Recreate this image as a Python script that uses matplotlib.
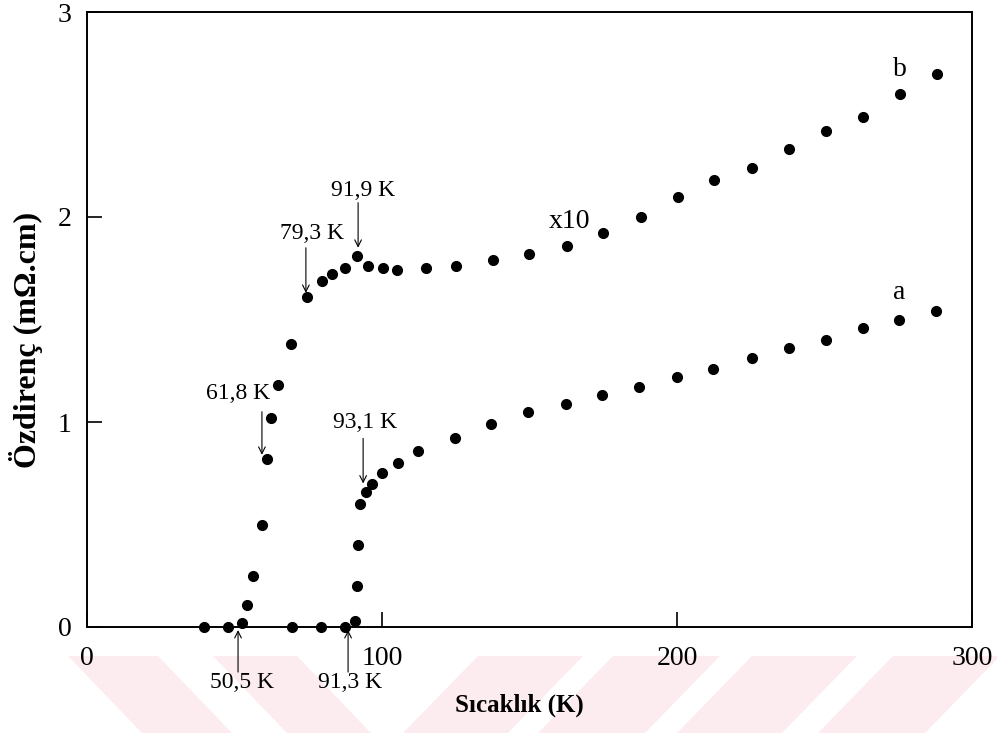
import matplotlib.pyplot as plt
from matplotlib.patches import Polygon

# Veriler
T_b = [39.7, 47.8, 52.5, 54.2, 56.3, 59.3, 61.0, 62.4, 64.7, 69.2, 74.6, 79.7, 83.1,
       87.5, 91.5, 95.3, 100.3, 105.1, 114.9, 125.1, 137.6, 149.8, 162.7, 174.9,
       187.8, 200.3, 212.5, 225.4, 238.0, 250.5, 263.1, 275.6, 288.1]
rho_b = [0.0, 0.0, 0.02, 0.107, 0.25, 0.50, 0.82, 1.02, 1.18, 1.38, 1.61, 1.69, 1.72,
         1.75, 1.81, 1.76, 1.75, 1.74, 1.75, 1.76, 1.79, 1.82, 1.86, 1.92,
         2.00, 2.10, 2.18, 2.24, 2.33, 2.42, 2.49, 2.60, 2.70]

T_a = [69.5, 79.3, 87.5, 90.8, 91.5, 91.9, 92.5, 94.6, 96.6, 100.0, 105.4, 112.2,
       124.7, 136.9, 149.5, 162.4, 174.6, 187.1, 200.0, 212.2, 225.4, 238.0, 250.5,
       263.1, 275.3, 287.8]
rho_a = [0.0, 0.0, 0.0, 0.03, 0.20, 0.40, 0.60, 0.66, 0.70, 0.75, 0.80, 0.86,
         0.92, 0.99, 1.05, 1.09, 1.13, 1.17, 1.22, 1.26, 1.31, 1.36, 1.40,
         1.46, 1.50, 1.54]

x_ticks = [0, 100, 200, 300]
y_ticks = [0, 1, 2, 3]

# ok etiketleri: (metin, metin konumu, ok ucu, ok kuyrugu)
arrow_labels = ["91,9 K", "79,3 K", "61,8 K", "93,1 K", "50,5 K", "91,3 K"]
arrow_text_xy = [(93.6, 2.13), (76.3, 1.92), (51.2, 1.14), (94.2, 1.00), (52.5, -0.27), (89.2, -0.27)]
arrow_tip = [(91.9, 1.85), (74.2, 1.63), (59.3, 0.84), (93.6, 0.70), (51.2, -0.015), (88.5, -0.015)]
arrow_tail = [(91.9, 2.07), (74.2, 1.85), (59.3, 1.05), (93.6, 0.92), (51.2, -0.22), (88.5, -0.22)]

plt.rcParams['font.family'] = ['Liberation Serif', 'DejaVu Serif']

fig = plt.figure(figsize=(9.97, 7.33), dpi=100)
ax = fig.add_axes([87 / 997, 1 - 627 / 733, 885 / 997, 615 / 733])

# %%
# arka plandaki pembe seritler (filigran)
W, H = 997, 733
y0, y1 = 656, 733
for xl, xr in [(68, 158), (213, 297)]:
    pts = [(xl, y0), (xr, y0), (xr + 74, y1), (xl + 74, y1)]
    fig.patches.append(Polygon([(px / W, 1 - py / H) for px, py in pts], closed=True,
                               transform=fig.transFigure, facecolor='#fcecef',
                               edgecolor='none', zorder=-1))
for xl, xr in [(478, 583), (613, 720), (752, 857), (893, 1000)]:
    pts = [(xl, y0), (xr, y0), (xr - 75, y1), (xl - 75, y1)]
    fig.patches.append(Polygon([(px / W, 1 - py / H) for px, py in pts], closed=True,
                               transform=fig.transFigure, facecolor='#fcecef',
                               edgecolor='none', zorder=-1))

# %%
ax.plot(T_b, rho_b, 'o', color='black', ms=7, clip_on=False)
ax.plot(T_a, rho_a, 'o', color='black', ms=7, clip_on=False)

ax.set_xlim(0, 300)
ax.set_ylim(0, 3)
ax.set_xticks(x_ticks)
ax.set_yticks(y_ticks)
ax.tick_params(direction='in', length=11, width=1.2, labelsize=20, top=False, right=False)
ax.tick_params(axis='x', pad=14)
ax.tick_params(axis='y', pad=11)
for s in ax.spines.values():
    s.set_linewidth(1.4)

ax.set_xlabel("Sıcaklık (K)", fontsize=18, fontweight='bold')
ax.set_ylabel("Özdirenç (mΩ.cm)", fontsize=23, fontweight='bold')
ax.xaxis.set_label_coords(0.488, -0.108)
ax.yaxis.set_label_coords(-0.05, 0.467)

# %%
for lab, txy, tip, tail in zip(arrow_labels, arrow_text_xy, arrow_tip, arrow_tail):
    ax.text(txy[0], txy[1], lab, fontsize=17, ha='center', va='center', clip_on=False)
    ax.annotate('', xy=tip, xytext=tail, annotation_clip=False,
                arrowprops=dict(arrowstyle='->', lw=0.8, color='black', mutation_scale=12,
                                shrinkA=0, shrinkB=0))

ax.text(163.4, 1.98, "x10", fontsize=20, ha='center', va='center')
ax.text(275.6, 2.72, "b", fontsize=20, ha='center', va='center')
ax.text(275.3, 1.63, "a", fontsize=20, ha='center', va='center')

plt.savefig("out.png", dpi=100)
